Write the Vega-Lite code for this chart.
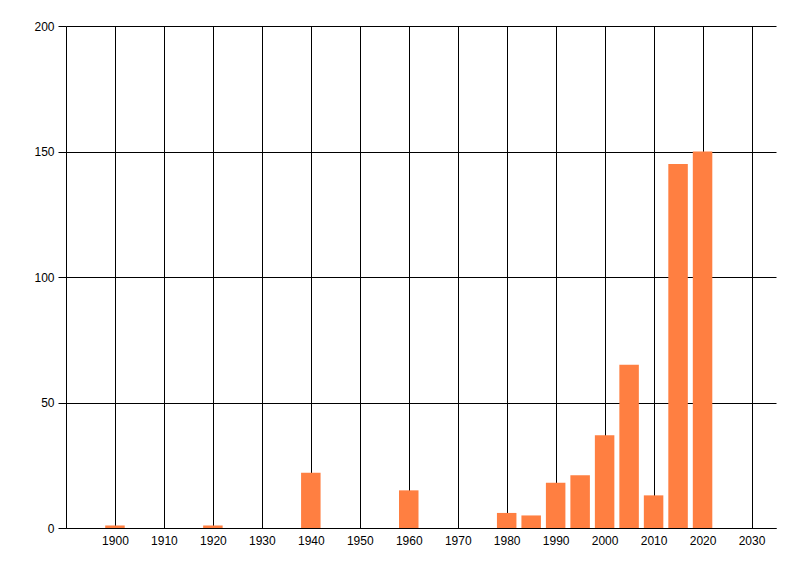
{
  "$schema": "https://vega.github.io/schema/vega-lite/v6.json",
  "width": 710,
  "height": 502,
  "autosize": {"type": "none"},
  "padding": {"left": 66, "top": 26, "right": 24, "bottom": 48},
  "background": "white",
  "config": {
    "view": {"stroke": null},
    "axis": {
      "labelFont": "Liberation Sans",
      "labelFontSize": 12,
      "labelColor": "#000000",
      "gridColor": "#000000",
      "gridOpacity": 1,
      "gridWidth": 1,
      "domainColor": "#000000",
      "domainWidth": 1,
      "tickColor": "#000000"
    }
  },
  "data": {
    "values": [
      {"year": 1900, "count": 1},
      {"year": 1920, "count": 1},
      {"year": 1940, "count": 22},
      {"year": 1960, "count": 15},
      {"year": 1980, "count": 6},
      {"year": 1985, "count": 5},
      {"year": 1990, "count": 18},
      {"year": 1995, "count": 21},
      {"year": 2000, "count": 37},
      {"year": 2005, "count": 65},
      {"year": 2010, "count": 13},
      {"year": 2015, "count": 145},
      {"year": 2020, "count": 150}
    ]
  },
  "mark": {"type": "bar", "color": "#FF7F41", "size": 19.5},
  "encoding": {
    "x": {
      "field": "year",
      "type": "quantitative",
      "scale": {"domain": [1890, 2035], "nice": false, "zero": false, "padding": 0},
      "axis": {
        "title": null,
        "values": [1900, 1910, 1920, 1930, 1940, 1950, 1960, 1970, 1980, 1990, 2000, 2010, 2020, 2030],
        "format": "d",
        "ticks": false,
        "tickSize": 0,
        "labelPadding": 7,
        "labelFlush": false
      }
    },
    "y": {
      "field": "count",
      "type": "quantitative",
      "scale": {"domain": [0, 200], "nice": false},
      "axis": {
        "title": null,
        "values": [0, 50, 100, 150, 200],
        "tickSize": 8,
        "labelPadding": 4,
        "labelFlush": false
      }
    }
  }
}
